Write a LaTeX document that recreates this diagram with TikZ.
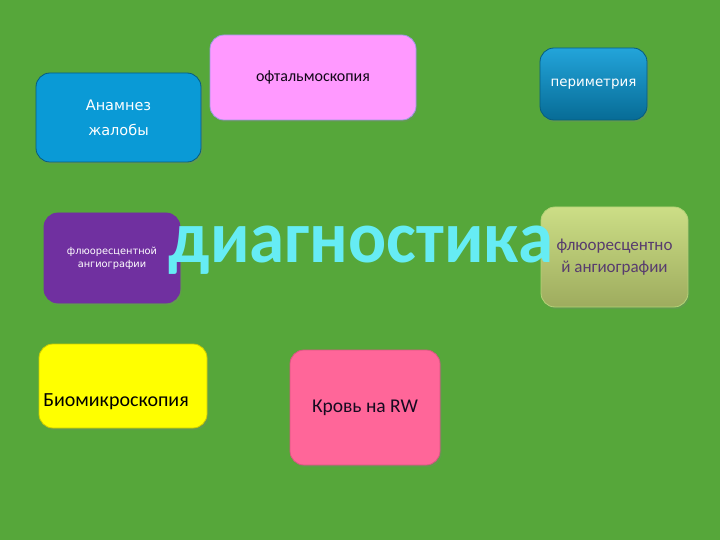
\documentclass[tikz,border=0pt]{standalone}
\usepackage{fontspec}
\setmainfont{Carlito}
\newfontfamily\verd{DejaVu Sans}
\usetikzlibrary{shadows}
\definecolor{Color1}{RGB}{86,167,58}
\definecolor{Color2}{RGB}{10,154,214}
\definecolor{Color3}{RGB}{255,153,255}
\definecolor{Color4}{RGB}{112,48,160}
\definecolor{Color5}{RGB}{255,255,0}
\definecolor{Color6}{RGB}{255,102,153}
\definecolor{Color7}{RGB}{102,236,244}
\definecolor{Color8}{RGB}{88,60,110}
\definecolor{Color9}{RGB}{204,222,134}
\definecolor{Color10}{RGB}{158,172,94}
\tikzset{card/.style={rectangle,rounded corners=14pt,align=center,line width=0.8pt,
  drop shadow={opacity=0.25,shadow xshift=1.5pt,shadow yshift=-2pt}}}

\begin{document}
\begin{tikzpicture}[x=1pt,y=-1pt]
		% background
		\fill[Color1] (0,0) rectangle (720,540);
		\useasboundingbox (0,0) rectangle (720,540);

		% cards
		\node[card,fill=Color2,draw=Color2!60!black,text=white,minimum width=165pt,minimum height=89pt,
		  font=\verd\fontsize{14.5}{25}\selectfont] (anamnez) at (118.5,117.5) {Анамнез\\жалобы};
		\node[card,fill=Color3,draw=black!30!blue!40,text=black!85!Color4,minimum width=206pt,minimum height=85pt,
		  font=\fontsize{16}{18}\selectfont] (ophth) at (313,77.5) {офтальмоскопия};
		\node[card,top color=Color2!90!white,bottom color=Color2!70!black,draw=Color2!60!black,text=white,minimum width=107pt,minimum height=72pt,
		  font=\verd\fontsize{13.4}{14}\selectfont] (perim) at (593.5,84) {периметрия};
		\node[card,fill=Color4,draw=Color4,text=white,minimum width=136pt,minimum height=90pt,
		  font=\verd\fontsize{9.8}{13}\selectfont] (fluor1) at (112,258) {флюоресцентной\\ангиографии};
		\node[card,top color=Color9,bottom color=Color10,draw=Color9!80!Color1,text=Color8,minimum width=147pt,minimum height=100pt,
		  font=\fontsize{17}{22}\selectfont] (fluor2) at (614.5,257) {флюоресцентно\\й ангиографии};
		\node[card,fill=Color5,draw=Color5!80!black,minimum width=168pt,minimum height=84pt] (biomic) at (123,386) {};
		\node[font=\fontsize{20}{22}\selectfont,text=black] (biotext) at ([shift={(-7,16)}]biomic.center) {Биомикроскопия};
		\node[card,fill=Color6,draw=Color6!85!black,text=black!80!Color4,minimum width=150pt,minimum height=115pt,
		  font=\fontsize{19.5}{22}\selectfont] (blood) at (365,407.5) {Кровь на RW};

		% title
		\node[anchor=base,text=Color7,font=\bfseries\fontsize{74}{74}\selectfont,inner sep=0,xscale=0.96] (title) at (361,262) {диагностика};
	\end{tikzpicture}
\end{document}
